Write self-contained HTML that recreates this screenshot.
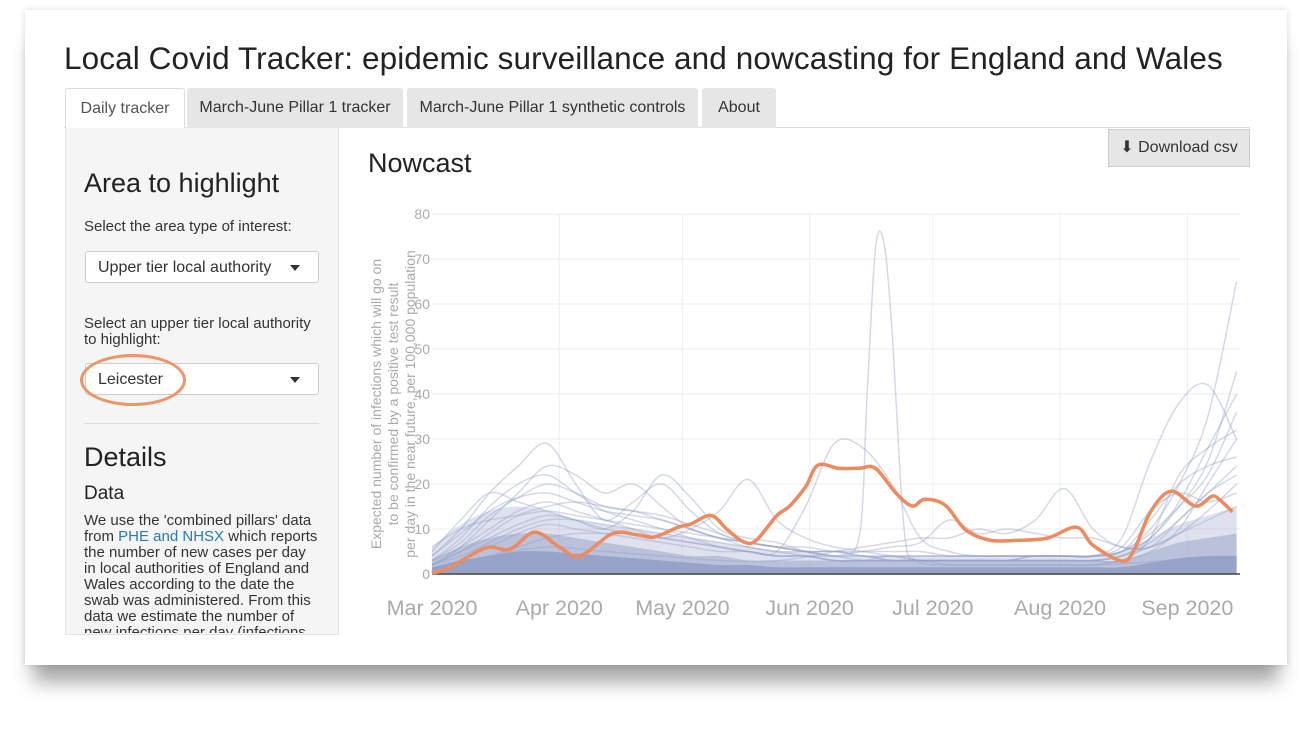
<!DOCTYPE html>
<html><head><meta charset="utf-8">
<style>
body{margin:0;width:1312px;height:740px;background:#fff;font-family:"Liberation Sans",sans-serif;position:relative;overflow:hidden}
.abs{position:absolute}
#card{left:25px;top:10px;width:1262px;height:655px;background:#fff;box-shadow:0 25px 18px -8px rgba(0,0,0,0.35),0 0 6px rgba(0,0,0,0.15)}
.tab{top:88px;height:40px;line-height:40px;font-size:16px;color:#333;background:#e6e6e6;text-align:center;border-radius:3px 3px 0 0}
.sel{height:32px;border:1px solid #ccc;border-radius:3px;background:#fff;font-size:16px;color:#333;line-height:32px;padding-left:12px;box-sizing:border-box}
.caret{position:absolute;right:18px;top:13px;border-left:5px solid transparent;border-right:5px solid transparent;border-top:6px solid #333}
</style></head><body>
<div id="card" class="abs"></div>
<div class="abs" style="left:64px;top:40px;font-size:31.5px;color:#222;letter-spacing:0.1px">Local Covid Tracker: epidemic surveillance and nowcasting for England and Wales</div>
<div class="abs" style="left:64px;top:127px;width:1186px;border-top:1px solid #ddd"></div>
<div class="abs tab" style="left:65px;width:118px;background:#fff;color:#555;border:1px solid #ddd;border-bottom:none">Daily tracker</div>
<div class="abs tab" style="left:187px;width:216px">March-June Pillar 1 tracker</div>
<div class="abs tab" style="left:407px;width:291px">March-June Pillar 1 synthetic controls</div>
<div class="abs tab" style="left:702px;width:74px">About</div>
<div class="abs" style="left:65px;top:128px;width:272px;height:506px;background:#f5f5f5;border:1px solid #e3e3e3;border-top:none">
 <div class="abs" style="left:18px;top:40px;font-size:27px;color:#222">Area to highlight</div>
 <div class="abs" style="left:18px;top:90px;font-size:15px;color:#333">Select the area type of interest:</div>
 <div class="abs sel" style="left:19px;top:123px;width:234px">Upper tier local authority<span class="caret"></span></div>
 <div class="abs" style="left:18px;top:188px;font-size:15px;color:#333;line-height:16px;width:240px">Select an upper tier local authority to highlight:</div>
 <div class="abs sel" style="left:19px;top:235px;width:234px">Leicester<span class="caret"></span></div>
 <div class="abs" style="left:14px;top:226px;width:100px;height:46px;border:3px solid #ef9466;border-radius:50%"></div>
 <div class="abs" style="left:18px;top:295px;width:235px;border-top:1px solid #ddd"></div>
 <div class="abs" style="left:18px;top:314px;font-size:27px;color:#222">Details</div>
 <div class="abs" style="left:18px;top:355px;font-size:19px;color:#222">Data</div>
 <div class="abs" style="left:18px;top:385px;width:234px;font-size:15px;color:#333;line-height:16px;height:120px;overflow:hidden">We use the 'combined pillars' data from <span style="color:#2a7ab9">PHE and NHSX</span> which reports the number of new cases per day in local authorities of England and Wales according to the date the swab was administered. From this data we estimate the number of new infections per day (infections</div>
</div>
<div class="abs" style="left:368px;top:148px;font-size:27px;color:#222">Nowcast</div>
<div class="abs" style="left:1108px;top:129px;width:142px;height:38px;background:#e6e6e6;border:1px solid #ccc;box-sizing:border-box;font-size:16px;color:#333;line-height:36px;text-align:center">⬇ Download csv</div>
<svg class="abs" style="left:0;top:0" width="1312" height="740" id="chart"></svg>
<script>
const weeks=[0,7,14,21,28,35,42,49,56,63,70,77,84,91,98,105,112,119,126,133,140,147,154,161,168,175,182,189,196];
const yTicks=[0,10,20,30,40,50,60,70,80];
const monthLabels=["Mar 2020","Apr 2020","May 2020","Jun 2020","Jul 2020","Aug 2020","Sep 2020"];
const monthDays=[0,31,61,92,122,153,184];
const bandOuter=[6,11,14,15,14,12,11,10,9,8,7,6,5,5,4,4,4,4,4,4,4,4,4,4,5,8,11,13,15];
const bandMid=[3,6,8,9,9,8,7,6,5,4,4,3,3,3,3,3,3,3,3,3,3,3,3,3,3,5,7,8,9];
const bandInner=[1.5,3,4,5,5,4.5,4,3.5,3,2.5,2,2,1.5,1.5,1.5,1.5,1.5,1.5,1.5,1.5,1.5,1.5,1.5,1.5,1.5,2.5,3.5,4,4];
const lineA=[3,8,15,20,22,18,14,12,10,8,6,5,4,4,3,3,3,3,2,2,2,2,2,2,3,5,10,20,30];
const lineB=[4,10,18,24,29,20,12,16,20,14,9,7,6,5,4,3,3,3,3,3,3,3,3,3,4,8,15,25,45];
const lineC=[2,6,12,18,24,22,18,20,15,10,8,6,5,4,3,3,4,3,3,3,3,4,4,4,5,10,20,35,65];
const lineD=[5,12,18,16,14,12,10,14,22,17,10,8,7,5,4,4,3,3,3,3,3,4,4,4,8,25,38,42,30];
const lineE=[3,6,10,14,16,14,12,10,8,10,14,21,12,8,6,5,4,3,3,3,3,3,3,3,4,7,12,18,22];
const lineF=[2,5,8,11,13,12,10,9,8,7,6,5,5,15,29,28,20,8,5,4,4,4,4,4,5,8,16,28,40];
const lineG=[1,3,6,9,11,10,9,8,7,6,5,5,4,4,4,5,6,7,12,9,10,9,8,8,6,6,12,18,24];
const lineH=[2,4,7,10,12,12,11,10,9,8,7,6,5,5,5,6,7,8,8,10,9,12,19,10,6,6,9,14,20];
const lineI=[3,7,13,17,20,18,15,14,13,11,9,7,6,5,4,4,3,3,3,3,3,3,3,3,3,8,22,28,32];
const lineJ=[1,2,4,6,8,9,9,9,8,7,6,5,4,4,3,3,3,3,3,3,3,3,3,3,4,6,9,12,15];
const lineK=[4,9,14,17,18,16,14,13,12,10,8,7,6,6,5,5,5,5,4,4,4,4,4,4,5,12,20,24,26];
const lineL=[2,5,9,13,15,16,15,14,12,10,8,7,6,5,5,4,4,4,4,4,4,4,4,4,5,9,15,22,36];
const lineM=[6,10,12,13,14,13,12,11,10,9,8,7,6,5,5,4,4,4,4,4,4,4,4,4,6,14,18,16,18];
const spikeDays=[0,14,28,42,56,70,84,98,104,106,108,110,112,115,118,126,140,160,180,196];
const spikeVals=[1,4,6,5,4,3,3,5,8,40,72,74,55,10,3,2,2,2,3,4];
const leicDays=[0,4,13,19,25,31,36,44,50,54,60,63,68,72,76,79,84,87,91,94,99,104,108,113,117,120,125,130,136,143,150,157,161,168,171,175,180,186,190,192,195];
const leicVals=[0.2,1.3,5.8,5.5,9.3,6,4,9,8.7,8.2,10.4,11.1,13,9.8,7.1,7.5,13,15,19.4,24.2,23.5,23.5,23.5,18,15.1,16.6,15.3,9.8,7.5,7.5,8,10.4,6.4,2.9,5.3,13.8,18.4,15.1,17.3,16.4,13.8];

const svg=document.getElementById('chart');
const NS='http://www.w3.org/2000/svg';
const X=d=>432+d*4.105, Y=v=>574-v*4.5;
function mk(t,a){const e=document.createElementNS(NS,t);for(const k in a)e.setAttribute(k,a[k]);svg.appendChild(e);return e;}
function path(ds,vs){const p=ds.map((d,i)=>[X(d),Y(vs[i])]);let s='M'+p[0][0]+','+p[0][1];
 for(let i=0;i<p.length-1;i++){const p0=p[Math.max(0,i-1)],p1=p[i],p2=p[i+1],p3=p[Math.min(p.length-1,i+2)];
 const c1=[p1[0]+(p2[0]-p0[0])/6,p1[1]+(p2[1]-p0[1])/6],c2=[p2[0]-(p3[0]-p1[0])/6,p2[1]-(p3[1]-p1[1])/6];
 s+=' C'+c1[0]+','+Math.min(574,c1[1])+' '+c2[0]+','+Math.min(574,c2[1])+' '+p2[0]+','+p2[1];}return s;}
yTicks.forEach(v=>{const g=mk('line',{x1:432,x2:1240,y1:Y(v),y2:Y(v),stroke:'#eee'});

const t=mk('text',{x:430,y:Y(v)+5,'text-anchor':'end','font-size':14,fill:'#aaa'});t.textContent=v;
});
monthDays.forEach((d,i)=>{if(i>0){const g=mk('line',{x1:X(d),x2:X(d),y1:214,y2:574,stroke:'#eee'});
}
const t=mk('text',{x:X(d),y:615,'text-anchor':'middle','font-size':21.5,fill:'#aaa'});t.textContent=monthLabels[i];
});
[[bandOuter,0.3],[bandMid,0.5],[bandInner,0.9]].forEach(([b,o])=>{const e=mk('path',{d:path(weeks,b)+' L'+X(196)+',574 L432,574 Z',fill:'#94a0c7','fill-opacity':o});
});
[lineA,lineB,lineC,lineD,lineE,lineF,lineG,lineH,lineI,lineJ,lineK,lineL,lineM].forEach(l=>{const e=mk('path',{d:path(weeks,l),fill:'none',stroke:'#94a0c7','stroke-opacity':0.4,'stroke-width':1.5});
});
const sp=mk('path',{d:path(spikeDays,spikeVals),fill:'none',stroke:'#94a0c7','stroke-opacity':0.4,'stroke-width':1.5});

const ax=mk('line',{x1:432,x2:1240,y1:574,y2:574,stroke:'#444','stroke-width':1.5});

const le=mk('path',{d:path(leicDays,leicVals),fill:'none',stroke:'#ef8a5e','stroke-width':3.5});

const tt=mk('text',{transform:'translate(408,404) rotate(-90)','text-anchor':'middle','font-size':14,fill:'#aaa'});

["Expected number of infections which will go on","to be confirmed by a positive test result","per day in the near future, per 100,000 population"].forEach((s,i)=>{const ts=document.createElementNS(NS,'tspan');ts.setAttribute('x',0);ts.setAttribute('y',(i-1)*17-10);ts.textContent=s;tt.appendChild(ts);});
</script>
</body></html>
